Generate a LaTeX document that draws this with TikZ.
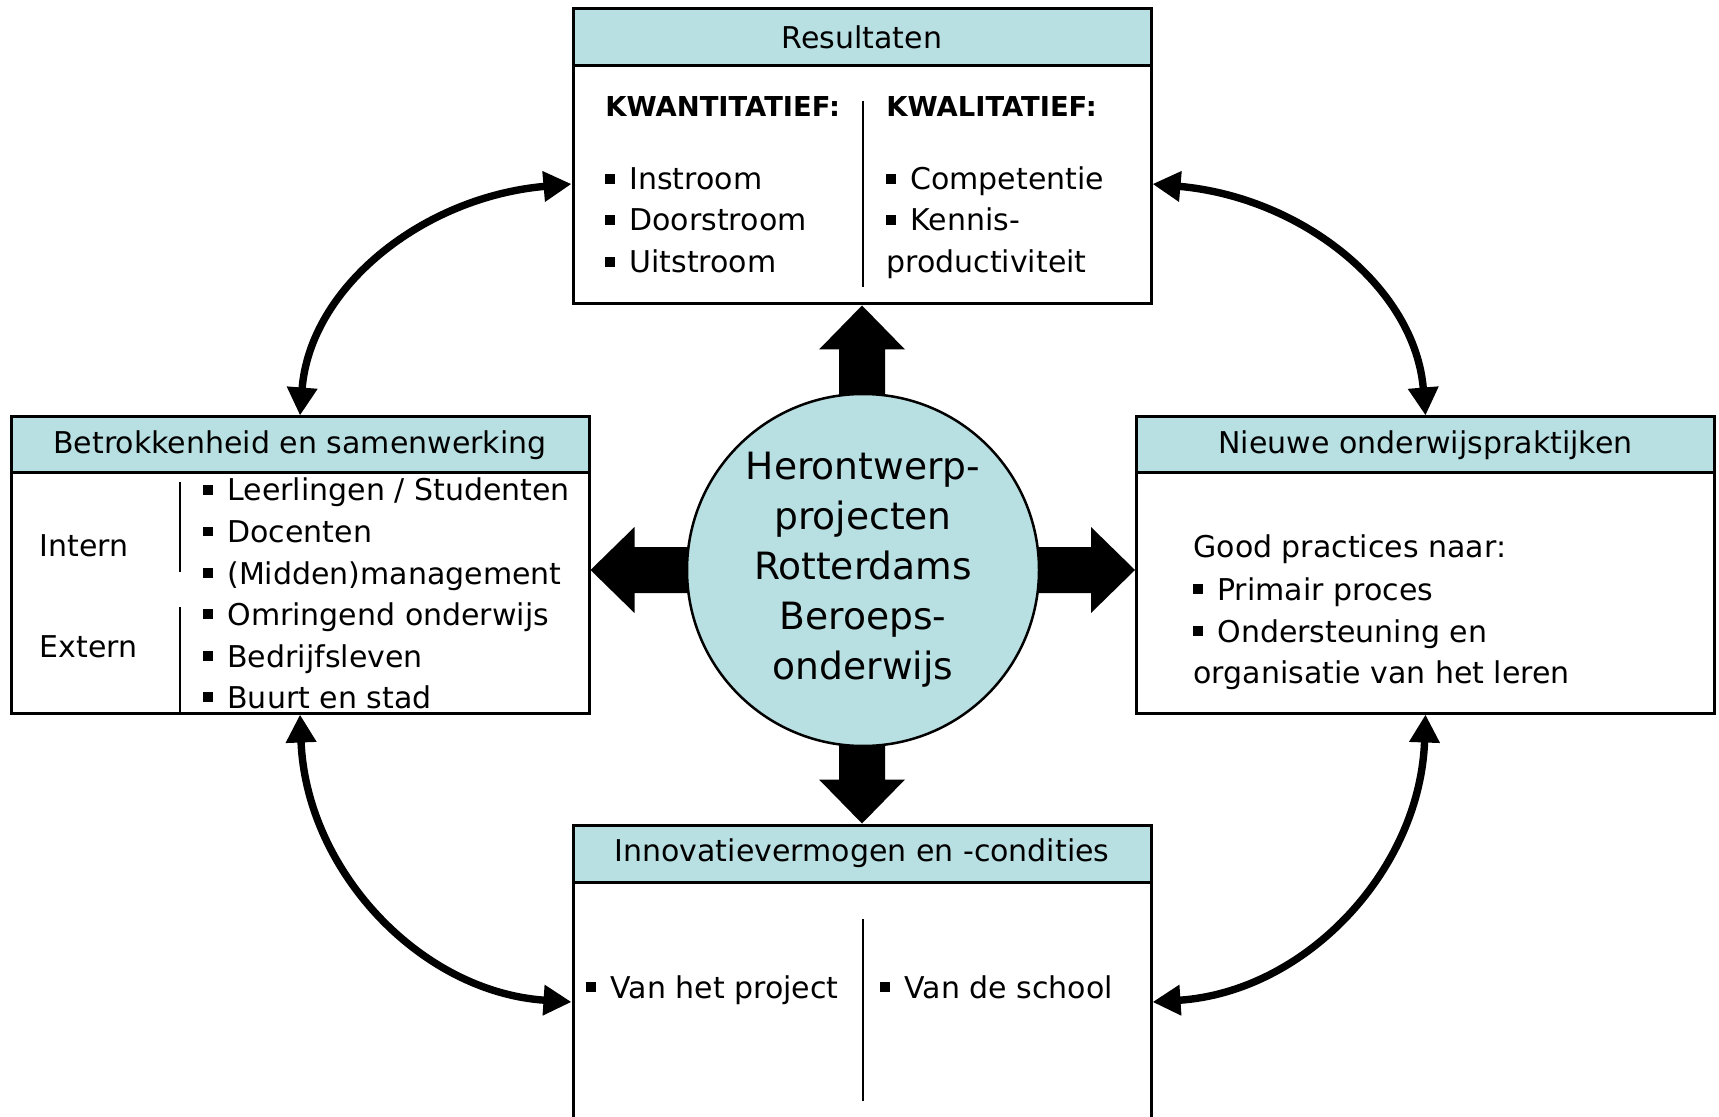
\documentclass[tikz,border=0pt]{standalone}
\usepackage{fontspec}
\setmainfont{DejaVu Sans}
\usetikzlibrary{arrows.meta}
\definecolor{hdr}{RGB}{184,223,226}
\newcommand\bul{\rule[3pt]{5pt}{5pt}\hspace{7pt}}
\begin{document}
\begin{tikzpicture}[x=0.5pt,y=-0.5pt,
  frame/.style={draw, line width=1.5pt, fill=white, inner sep=0pt, minimum width=289pt},
  hdrbox/.style={draw, line width=1.5pt, fill=hdr, inner sep=0pt, minimum width=289pt, minimum height=28.5pt, font=\fontsize{15}{18}\selectfont},
  txt/.style={anchor=base west, inner sep=0pt, font=\fontsize{15}{18}\selectfont},
  boldtxt/.style={anchor=base west, inner sep=0pt, font=\fontsize{13.7}{16}\selectfont\bfseries},
  divider/.style={line width=1pt},
  curved/.style={line width=3.7pt, {Triangle[length=14pt,width=14.5pt]}-{Triangle[length=14pt,width=14.5pt]}},
  block/.style={fill=black},
  hub/.style={circle, draw, line width=1.25pt, fill=hdr, minimum size=176pt, inner sep=0pt, align=center, font=\fontsize{18.8}{25}\selectfont}
]
\useasboundingbox (0,0) rectangle (1719,1117);
\clip (0,0) rectangle (1719,1117);

% boxes
\node[frame, minimum height=147.5pt] (top) at (862,156.5) {};
\node[hdrbox] (tophead) at (862,37.5) {Resultaten};
\node[frame, minimum height=148pt] (left) at (300,565) {};
\node[hdrbox, minimum height=28pt] (lefthead) at (300,445) {Betrokkenheid en samenwerking};
\node[frame, minimum height=148pt] (right) at (1425.5,565) {};
\node[hdrbox, minimum height=28pt] (righthead) at (1425.5,445) {Nieuwe onderwijspraktijken};
\node[frame, minimum height=157.5pt] (bot) at (862,982.5) {};
\node[hdrbox] (bothead) at (862,853.5) {Innovatievermogen en -condities};

% top box content
\coordinate (td1) at (863,101);
\coordinate (td2) at (863,287);
\draw[divider] (td1) -- (td2);
\node[boldtxt] (kwan) at (605,117) {KWANTITATIEF:};
\node[boldtxt] (kwal) at (886,117) {KWALITATIEF:};
\node[txt] (t1) at (605,190) {\bul Instroom};
\node[txt] (t2) at (605,231) {\bul Doorstroom};
\node[txt] (t3) at (605,273) {\bul Uitstroom};
\node[txt] (t4) at (886,190) {\bul Competentie};
\node[txt] (t5) at (886,231) {\bul Kennis-};
\node[txt] (t6) at (886,273) {productiviteit};

% left box content
\coordinate (ld1) at (180,482);
\coordinate (ld2) at (180,572);
\coordinate (ld3) at (180,607);
\coordinate (ld4) at (180,713);
\draw[divider] (ld1) -- (ld2);
\draw[divider] (ld3) -- (ld4);
\node[txt] (intern) at (39.5,556) {Intern};
\node[txt] (extern) at (39.5,657) {Extern};
\node[txt] (l1) at (203,501) {\bul Leerlingen / Studenten};
\node[txt] (l2) at (203,542.5) {\bul Docenten};
\node[txt] (l3) at (203,584) {\bul (Midden)management};
\node[txt] (l4) at (203,625) {\bul Omringend onderwijs};
\node[txt] (l5) at (203,667) {\bul Bedrijfsleven};
\node[txt] (l6) at (203,708) {\bul Buurt en stad};

% right box content
\node[txt] (r1) at (1193,558) {Good practices naar:};
\node[txt] (r2) at (1193,600) {\bul Primair proces};
\node[txt] (r3) at (1193,642) {\bul Ondersteuning en};
\node[txt] (r4) at (1193,683) {organisatie van het leren};

% bottom box content
\coordinate (bd1) at (863,919);
\coordinate (bd2) at (863,1101);
\draw[divider] (bd1) -- (bd2);
\node[txt] (b1) at (586,998) {\bul Van het project};
\node[txt] (b2) at (880,998) {\bul Van de school};

% hub position and block arrows
\coordinate (hc) at (863,570);
\fill[block] (top.south) -- ++(43,44) -- ++(-20,0) -- ++(0,80) -- ++(-46,0) -- ++(0,-80) -- ++(-20,0) -- cycle;
\fill[block] (bothead.north) -- ++(43,-44) -- ++(-20,0) -- ++(0,-80) -- ++(-46,0) -- ++(0,80) -- ++(-20,0) -- cycle;
\fill[block] (left.east |- hc) -- ++(44,-43) -- ++(0,20) -- ++(80,0) -- ++(0,46) -- ++(-80,0) -- ++(0,20) -- cycle;
\fill[block] (right.west |- hc) -- ++(-44,-43) -- ++(0,20) -- ++(-80,0) -- ++(0,46) -- ++(80,0) -- ++(0,20) -- cycle;
\node[hub] (c) at (hc) {Herontwerp-\\projecten\\Rotterdams\\Beroeps-\\onderwijs};

% curved double arrows
\draw[curved] ([yshift=-13.75pt]top.west) .. controls (423,197) and (310,287) .. (lefthead.north);
\draw[curved] ([yshift=-13.75pt]top.east) .. controls (1301,197) and (1415,287) .. (righthead.north);
\draw[curved] (left.south) .. controls (306,870) and (420,992) .. ([yshift=-9.75pt]bot.west);
\draw[curved] (right.south) .. controls (1420,870) and (1306,992) .. ([yshift=-9.75pt]bot.east);
\end{tikzpicture}
\end{document}
